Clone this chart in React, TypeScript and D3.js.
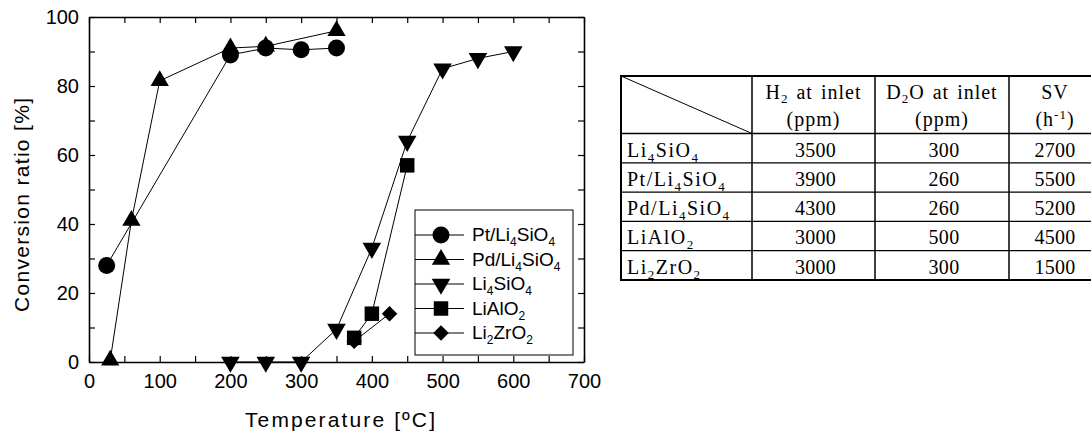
import React, { useEffect, useRef } from 'react';
import * as d3 from 'd3';

// conversion ratio [%] vs temperature [ºC]
const ptLi4SiO4: [number, number][] = [[25, 28], [200, 89], [250, 91], [300, 90.5], [350, 91]];
const pdLi4SiO4: [number, number][] = [[30, 0.5], [60, 41], [100, 81.5], [200, 91], [250, 91.5], [350, 96]];
const li4SiO4: [number, number][] = [[200, 0], [250, 0], [300, 0], [350, 9.5], [400, 33], [450, 64], [500, 85], [550, 88], [600, 90]];
const liAlO2: [number, number][] = [[375, 7], [400, 14], [450, 57]];
const li2ZrO2: [number, number][] = [[375, 6], [425, 14]];

const xTicks = [0, 100, 200, 300, 400, 500, 600, 700];
const yTicks = [0, 20, 40, 60, 80, 100];

const legendLabels = ['Pt/Li_4SiO_4', 'Pd/Li_4SiO_4', 'Li_4SiO_4', 'LiAlO_2', 'Li_2ZrO_2'];

// table
const tableHeader = [['H_2 at inlet', '(ppm)'], ['D_2O at inlet', '(ppm)'], ['SV', '(h^{-1})']];
const tableRows = ['Li_4SiO_4', 'Pt/Li_4SiO_4', 'Pd/Li_4SiO_4', 'LiAlO_2', 'Li_2ZrO_2'];
const h2Inlet = [3500, 3900, 4300, 3000, 3000];
const d2oInlet = [300, 260, 260, 500, 300];
const spaceVelocity = [2700, 5500, 5200, 4500, 1500];

const SANS = '"Liberation Sans", Arial, Helvetica, sans-serif';
const SERIF = '"Liberation Serif", "Times New Roman", serif';

// "_x" -> subscript char, "^{..}" -> superscript
const rich = (sel: any, str: string, subSize: number, subShift: number, supShift: number) => {
    const parts: { t: string; k: number }[] = [];
    let buf = '';
    let i = 0;
    const push = (t: string, k: number) => { if (t) parts.push({ t, k }); };
    while (i < str.length) {
        const c = str[i];
        if (c === '_') {
            push(buf, 0); buf = '';
            push(str[i + 1], 1);
            i += 2;
        } else if (c === '^' && str[i + 1] === '{') {
            push(buf, 0); buf = '';
            const j = str.indexOf('}', i);
            push(str.slice(i + 2, j), -1);
            i = j + 1;
        } else {
            buf += c;
            i++;
        }
    }
    push(buf, 0);
    let cur = 0;
    parts.forEach((p) => {
        const target = p.k === 1 ? subShift : p.k === -1 ? -supShift : 0;
        const ts = sel.append('tspan').attr('dy', target - cur).text(p.t);
        if (p.k !== 0) ts.style('font-size', `${subSize}px`);
        cur = target;
    });
};

const Chart = () => {
    const svgRef = useRef<SVGSVGElement>(null);

    useEffect(() => {
        const svg = d3.select(svgRef.current);
        svg.selectAll('*').remove();

        const left = 89, right = 584, top = 17, bottom = 362;

        const x = d3.scaleLinear().domain([0, 700]).range([left, right]);
        const y = d3.scaleLinear().domain([0, 100]).range([bottom, top]);

        const minorX = d3.range(0, 701, 50);
        const minorY = d3.range(0, 101, 10);

        const styleAxis = (g: any) => {
            g.attr('font-family', SANS).attr('font-size', 20);
            g.select('.domain').attr('stroke-width', 1.6);
            g.selectAll('.tick line').attr('stroke-width', 1.2);
            g.selectAll('.tick text').attr('fill', '#000');
        };

        svg.append('g')
            .attr('transform', `translate(0,${bottom})`)
            .call(d3.axisBottom(x).tickValues(minorX).tickSize(-6).tickSizeOuter(0).tickPadding(12)
                .tickFormat((d: any) => (xTicks.includes(d) ? String(d) : '')))
            .call(styleAxis);
        svg.append('g')
            .attr('transform', `translate(0,${top})`)
            .call(d3.axisTop(x).tickValues(minorX).tickSize(-6).tickSizeOuter(0).tickFormat(() => ''))
            .call(styleAxis);
        svg.append('g')
            .attr('transform', `translate(${left},0)`)
            .call(d3.axisLeft(y).tickValues(minorY).tickSize(-6).tickSizeOuter(0).tickPadding(10)
                .tickFormat((d: any) => (yTicks.includes(d) ? String(d) : '')))
            .call(styleAxis);
        svg.append('g')
            .attr('transform', `translate(${right},0)`)
            .call(d3.axisRight(y).tickValues(minorY).tickSize(-6).tickSizeOuter(0).tickFormat(() => ''))
            .call(styleAxis);

        // axis titles
        svg.append('text')
            .attr('transform', 'translate(29,205) rotate(-90)')
            .attr('text-anchor', 'middle')
            .attr('font-family', SANS)
            .attr('font-size', 21)
            .attr('textLength', 214)
            .text('Conversion ratio [%]');
        svg.append('text')
            .attr('x', 340)
            .attr('y', 427)
            .attr('text-anchor', 'middle')
            .attr('font-family', SANS)
            .attr('font-size', 21)
            .attr('textLength', 190)
            .text('Temperature [ºC]');

        // series
        const series = [
            { data: ptLi4SiO4, type: d3.symbolCircle, size: 227, rot: 0 },
            { data: pdLi4SiO4, type: d3.symbolTriangle, size: 145, rot: 0 },
            { data: li4SiO4, type: d3.symbolTriangle, size: 150, rot: 180 },
            { data: liAlO2, type: d3.symbolSquare, size: 210, rot: 0 },
            { data: li2ZrO2, type: d3.symbolSquare, size: 120, rot: 45 },
        ];

        const line = d3.line<[number, number]>().x((d) => x(d[0])).y((d) => y(d[1]));

        series.forEach((s) => {
            svg.append('path')
                .attr('d', line(s.data))
                .attr('fill', 'none')
                .attr('stroke', '#000')
                .attr('stroke-width', 1);
        });
        series.forEach((s) => {
            svg.append('g')
                .selectAll('path')
                .data(s.data)
                .join('path')
                .attr('transform', (d) => `translate(${x(d[0])},${y(d[1])}) rotate(${s.rot})`)
                .attr('d', d3.symbol().type(s.type).size(s.size)() as string)
                .attr('fill', '#000');
        });

        // legend
        const legend = svg.append('g');
        legend.append('rect')
            .attr('x', 415).attr('y', 210)
            .attr('width', 158).attr('height', 145)
            .attr('fill', '#fff')
            .attr('stroke', '#000')
            .attr('stroke-width', 1);
        series.forEach((s, i) => {
            const ly = 235 + i * 24.5;
            legend.append('line')
                .attr('x1', 415).attr('x2', 464)
                .attr('y1', ly).attr('y2', ly)
                .attr('stroke', '#000');
            legend.append('path')
                .attr('transform', `translate(441,${ly}) rotate(${s.rot})`)
                .attr('d', d3.symbol().type(s.type).size(s.size)() as string)
                .attr('fill', '#000');
            const t = legend.append('text')
                .attr('x', 472)
                .attr('y', ly + 6)
                .attr('font-family', SANS)
                .attr('font-size', 19);
            rich(t, legendLabels[i], 12, 5, 6);
        });

        // table
        const tLeft = 621;
        const cols = [tLeft, 752, 875, 1009, 1095];
        const tTop = 76, headBottom = 133.5, rowH = 29.3;
        const tBottom = headBottom + rowH * tableRows.length;
        const table = svg.append('g')
            .attr('font-family', SERIF)
            .attr('font-size', 20);

        table.append('rect')
            .attr('x', tLeft).attr('y', tTop)
            .attr('width', cols[4] - tLeft).attr('height', tBottom - tTop)
            .attr('fill', 'none').attr('stroke', '#000').attr('stroke-width', 2);
        cols.slice(1, 4).forEach((cx) => {
            table.append('line')
                .attr('x1', cx).attr('x2', cx).attr('y1', tTop).attr('y2', tBottom)
                .attr('stroke', '#000').attr('stroke-width', 1.5);
        });
        d3.range(tableRows.length).forEach((r) => {
            const ry = headBottom + r * rowH;
            table.append('line')
                .attr('x1', tLeft).attr('x2', cols[4]).attr('y1', ry).attr('y2', ry)
                .attr('stroke', '#000').attr('stroke-width', r === 0 ? 1.5 : 1.2);
        });
        table.append('line')
            .attr('x1', tLeft).attr('y1', tTop).attr('x2', cols[1]).attr('y2', headBottom)
            .attr('stroke', '#000').attr('stroke-width', 1);

        tableHeader.forEach((lines, c) => {
            const cx = (cols[c + 1] + cols[c + 2]) / 2 + (c === 2 ? 3 : 0);
            lines.forEach((ln, k) => {
                const t = table.append('text')
                    .attr('x', cx)
                    .attr('y', 99 + k * 27)
                    .attr('text-anchor', 'middle')
                    .style('letter-spacing', '1px')
                    .style('word-spacing', '2px');
                rich(t, ln, 13, 4, 7);
            });
        });

        const cells = [h2Inlet, d2oInlet, spaceVelocity];
        tableRows.forEach((label, r) => {
            const by = headBottom + r * rowH + 23;
            const t = table.append('text')
                .attr('x', tLeft + 6)
                .attr('y', by)
                .style('letter-spacing', '1.5px');
            rich(t, label, 13, 5, 7);
            cells.forEach((vals, c) => {
                table.append('text')
                    .attr('x', (cols[c + 1] + cols[c + 2]) / 2 + (c === 2 ? 3 : 2))
                    .attr('y', by)
                    .attr('text-anchor', 'middle')
                    .style('letter-spacing', '0.3px')
                    .text(String(vals[r]));
            });
        });
    }, []);

    return (
        <svg
            ref={svgRef}
            width={1091}
            height={434}
            style={{ position: 'absolute', left: 0, top: 0, background: '#fff' }}
        />
    );
};

export default function App() {
    return <Chart />;
}
